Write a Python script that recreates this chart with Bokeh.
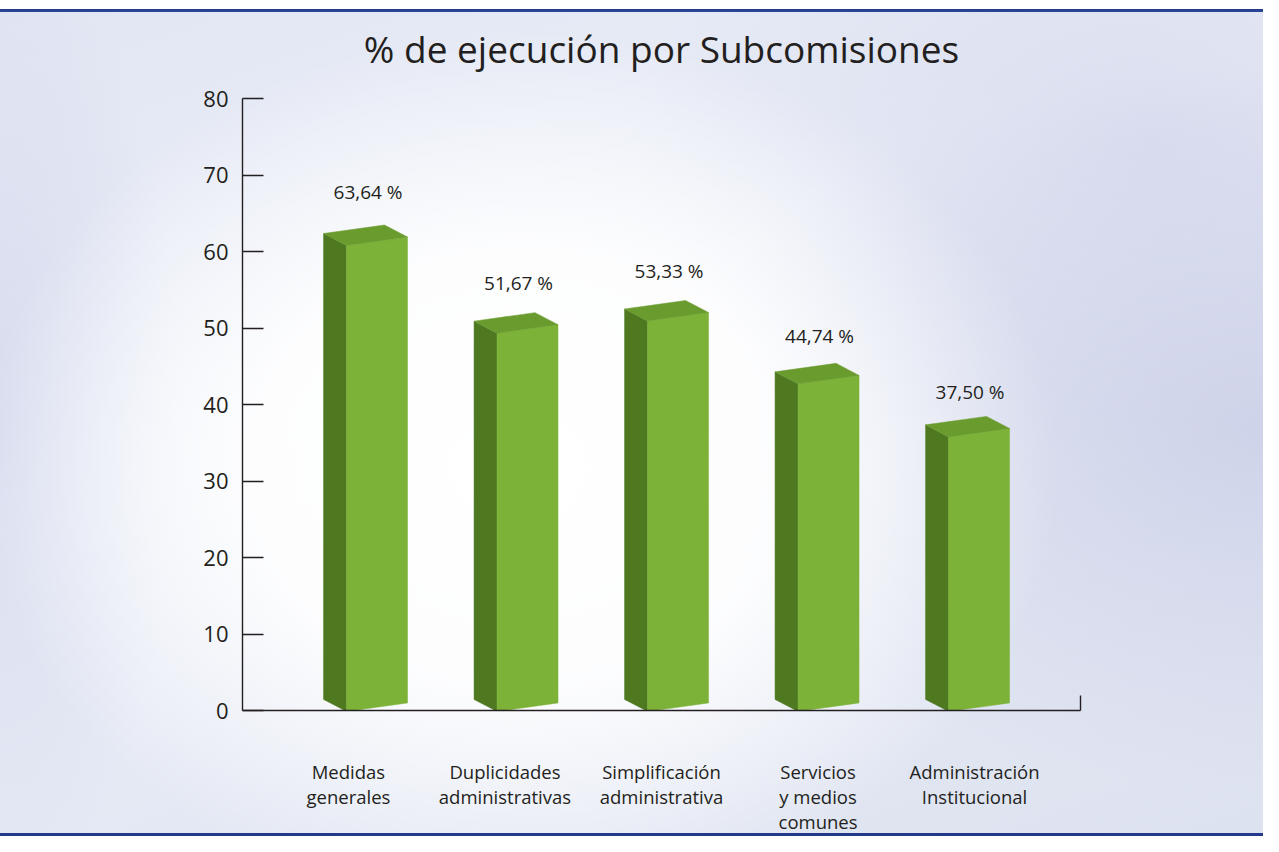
from bokeh.plotting import figure
from bokeh.models import Range1d, FixedTicker, LinearAxis, ColumnDataSource
from bokeh.core.properties import value
from bokeh.embed import file_html
from bokeh.resources import INLINE

# ---------------- data ----------------
title_text = "% de ejecución por Subcomisiones"
categories = [
    "Medidas\ngenerales",
    "Duplicidades\nadministrativas",
    "Simplificación\nadministrativa",
    "Servicios\ny medios\ncomunes",
    "Administración\nInstitucional",
]
values = [63.64, 51.67, 53.33, 44.74, 37.50]
y_ticks = [0, 10, 20, 30, 40, 50, 60, 70, 80]

# ---------------- style ----------------
FONT = "Open Sans"
TXT = "#231f20"
C_FRONT = "#7db238"
C_SIDE = "#4e7921"
C_TOP = "#6a9b2e"

p = figure(
    width=1263, height=836, output_backend="svg", toolbar_location=None,
    x_range=Range1d(-0.894, 4.674), y_range=Range1d(0, 80),
    min_border_left=242, min_border_right=183, min_border_top=98, min_border_bottom=126,
)
p.background_fill_color = None
p.border_fill_color = None
p.outline_line_color = None
p.grid.visible = False

p.styles = {
    "background": (
        "linear-gradient(to bottom, #ffffff 0px, #ffffff 9px, #23398a 9px, #2f4a9a 12px, "
        "rgba(0,0,0,0) 12px, rgba(0,0,0,0) calc(100% - 3px), #23398a calc(100% - 3px), #23398a 100%), "
        "radial-gradient(ellipse 540px 440px at 520px 470px, rgba(255,255,255,1) 0%, "
        "rgba(255,255,255,0.9) 50%, rgba(255,255,255,0) 100%), "
        "radial-gradient(ellipse 600px 360px at 1263px 430px, rgba(200,204,230,0.75) 0%, "
        "rgba(200,204,230,0) 100%), "
        "radial-gradient(ellipse 520px 320px at 1150px 140px, rgba(208,211,234,0.6) 0%, "
        "rgba(208,211,234,0) 100%), "
        "radial-gradient(ellipse 180px 480px at 0px 420px, rgba(205,210,234,0.6) 0%, "
        "rgba(205,210,234,0) 100%), "
        "linear-gradient(160deg, #e2e6f3 0%, #eaeef7 40%, #dde2f0 100%)"
    )
}

# ---------------- title ----------------
p.title.text = title_text
p.title.align = "center"
p.title.vertical_align = "top"
p.title.text_font = FONT
p.title.text_font_size = "37px"
p.title.text_font_style = "normal"
p.title.text_color = TXT
p.title.standoff = 45

# ---------------- 3D bars ----------------
W = 0.405     # front face width
TILT = 1.11   # rise of the front face across its width
DX = -0.153   # depth offset (x)
DY = 1.57     # depth offset (y)
K = 0.957     # front plane scale
BASE = -0.12

fx, fy, sx, sy, tx, ty = [], [], [], [], [], []
for i, v in enumerate(values):
    xl, xr = i - W / 2, i + W / 2
    h = K * v
    fx.append([xl, xr, xr, xl])
    fy.append([BASE, BASE + TILT, BASE + TILT + h, BASE + h])
    sx.append([xl + DX, xl, xl, xl + DX])
    sy.append([BASE + DY, BASE, BASE + h, BASE + h + DY])
    tx.append([xl, xr, xr + DX, xl + DX])
    ty.append([BASE + h, BASE + TILT + h, BASE + TILT + h + DY, BASE + h + DY])

p.patches(sx, sy, fill_color=C_SIDE, line_color=C_SIDE, line_width=0.5)
p.patches(fx, fy, fill_color=C_FRONT, line_color=C_FRONT, line_width=0.5)
p.patches(tx, ty, fill_color=C_TOP, line_color=C_TOP, line_width=0.5)

# value labels
src = ColumnDataSource(dict(
    x=list(range(len(values))),
    y=values,
    t=[f"{v:.2f}".replace(".", ",") + " %" for v in values],
))
p.text(x="x", y="y", text="t", source=src, x_offset=-9, y_offset=-32,
       text_font=value(FONT), text_font_size="19px", text_color=TXT,
       text_align="center", text_baseline="middle")

# ---------------- axes ----------------
yax = p.yaxis[0]
yax.ticker = FixedTicker(ticks=y_ticks)
yax.axis_line_color = TXT
yax.axis_line_width = 1.4
yax.major_tick_line_color = TXT
yax.major_tick_line_width = 1.4
yax.major_tick_in = 21
yax.major_tick_out = 0
yax.minor_tick_line_color = None
yax.major_label_standoff = 14
yax.major_label_text_font = FONT
yax.major_label_text_font_size = "22px"
yax.major_label_text_color = TXT

label_pos = [round(i * 1.04 - 0.19, 3) for i in range(len(categories))]
xax = p.xaxis[0]
xax.ticker = FixedTicker(ticks=label_pos)
xax.major_label_overrides = {pos: lab for pos, lab in zip(label_pos, categories)}
xax.axis_line_color = TXT
xax.axis_line_width = 1.4
xax.major_tick_line_color = None
xax.minor_tick_line_color = None
xax.major_label_standoff = 42
xax.major_label_text_font = FONT
xax.major_label_text_font_size = "18.5px"
xax.major_label_text_line_height = 1.0
xax.major_label_text_color = TXT

# short vertical stroke closing the category axis on the right
rax = LinearAxis(bounds=(0, 2), ticker=FixedTicker(ticks=[]))
rax.axis_line_color = TXT
rax.axis_line_width = 1.4
rax.major_tick_line_color = None
rax.minor_tick_line_color = None
p.add_layout(rax, "right")

open("out.html", "w").write(file_html(p, INLINE))
